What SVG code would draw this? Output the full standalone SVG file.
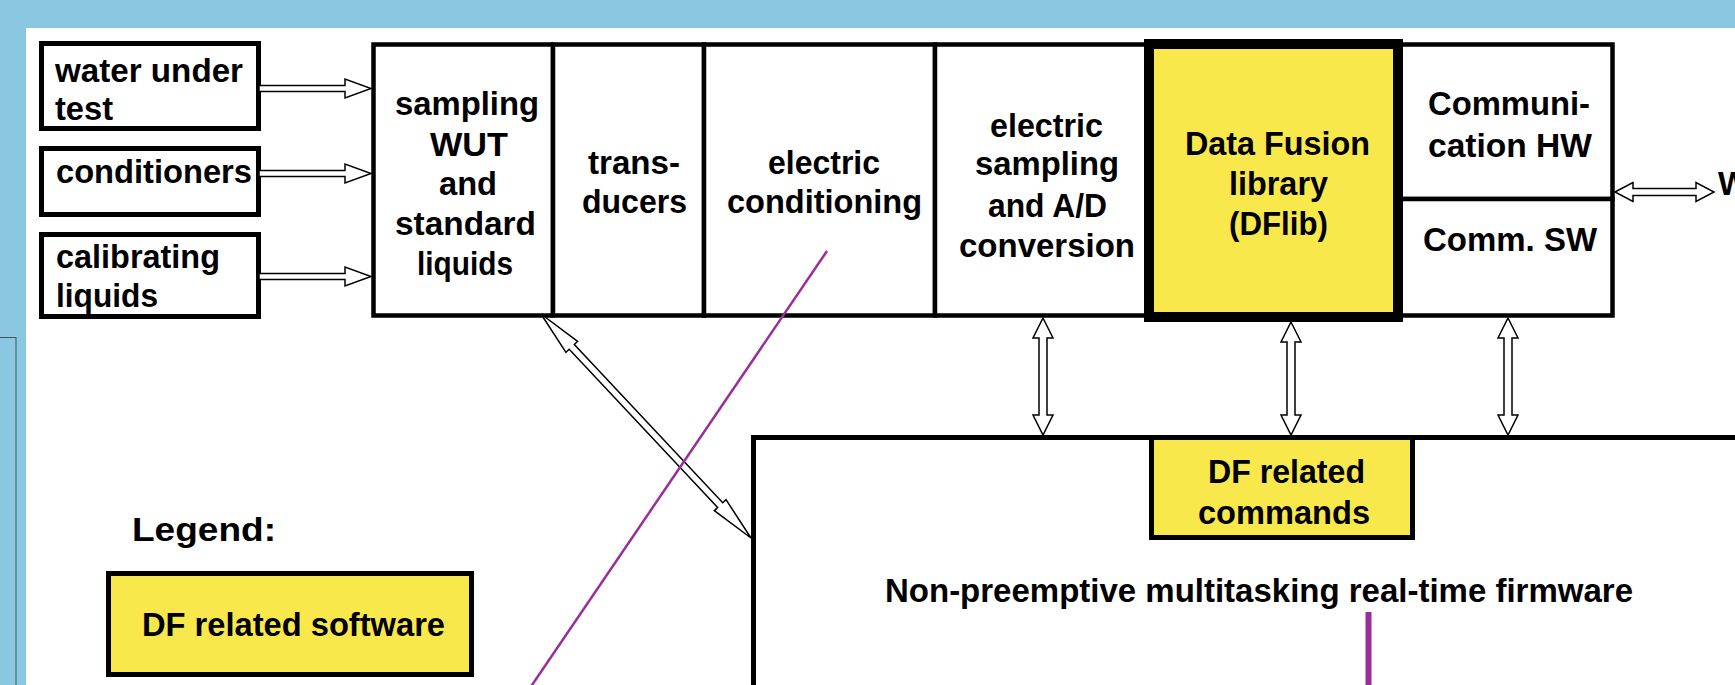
<svg xmlns="http://www.w3.org/2000/svg" width="1735" height="685" viewBox="0 0 1735 685">
<style>
.bx{fill:#fff;stroke:#000;stroke-width:5}
.sg{fill:#fff;stroke:#000;stroke-width:4.5}
.yl{fill:#f9e84b;stroke:#000;stroke-width:5}
.ha{fill:#fff;stroke:#000;stroke-width:1.5;stroke-linejoin:miter}
.t{font-family:"Liberation Sans",Arial,sans-serif;font-weight:bold;font-size:33px;fill:#000}
.m{text-anchor:middle}
.pl{stroke:#992d99;fill:none}
</style>
<rect x="0" y="0" width="1735" height="685" fill="#8ac8e1"/>
<rect x="26" y="28" width="1709" height="657" fill="#fff"/>
<rect x="-1" y="337.5" width="17" height="360" fill="#8ac8e1" stroke="#44525c" stroke-width="1"/>

<g id="water-under-test">
<rect class="bx" x="41.5" y="43.5" width="217" height="85"/>
<text class="t" x="55" y="82" textLength="188" lengthAdjust="spacingAndGlyphs">water under</text>
<text class="t" x="55" y="120" textLength="58" lengthAdjust="spacingAndGlyphs">test</text>
</g>
<g id="conditioners">
<rect class="bx" x="41.5" y="148.5" width="217" height="66"/>
<text class="t" x="56" y="183" textLength="196" lengthAdjust="spacingAndGlyphs">conditioners</text>
</g>
<g id="calibrating-liquids">
<rect class="bx" x="41.5" y="234.5" width="217" height="82"/>
<text class="t" x="56" y="268" textLength="164" lengthAdjust="spacingAndGlyphs">calibrating</text>
<text class="t" x="56" y="307" textLength="102" lengthAdjust="spacingAndGlyphs">liquids</text>
</g>

<g id="sampling-wut">
<rect class="sg" x="373.5" y="44.5" width="179.5" height="271"/>
<text class="t m" x="467" y="115" textLength="144" lengthAdjust="spacingAndGlyphs">sampling</text>
<text class="t m" x="469" y="156" textLength="78" lengthAdjust="spacingAndGlyphs">WUT</text>
<text class="t m" x="468" y="195" textLength="58" lengthAdjust="spacingAndGlyphs">and</text>
<text class="t m" x="465.5" y="235" textLength="141" lengthAdjust="spacingAndGlyphs">standard</text>
<text class="t m" x="465" y="275" textLength="96" lengthAdjust="spacingAndGlyphs">liquids</text>
</g>
<g id="transducers">
<rect class="sg" x="553" y="44.5" width="151" height="271"/>
<text class="t m" x="634" y="174" textLength="92" lengthAdjust="spacingAndGlyphs">trans-</text>
<text class="t m" x="634.5" y="213" textLength="105" lengthAdjust="spacingAndGlyphs">ducers</text>
</g>
<g id="electric-conditioning">
<rect class="sg" x="704" y="44.5" width="231" height="271"/>
<text class="t m" x="824" y="174" textLength="112" lengthAdjust="spacingAndGlyphs">electric</text>
<text class="t m" x="824.5" y="213" textLength="195" lengthAdjust="spacingAndGlyphs">conditioning</text>
</g>
<g id="electric-sampling-ad">
<rect class="sg" x="935" y="44.5" width="214" height="271"/>
<text class="t m" x="1046.5" y="137" textLength="113" lengthAdjust="spacingAndGlyphs">electric</text>
<text class="t m" x="1047" y="175" textLength="144" lengthAdjust="spacingAndGlyphs">sampling</text>
<text class="t m" x="1047.5" y="217" textLength="119" lengthAdjust="spacingAndGlyphs">and A/D</text>
<text class="t m" x="1047" y="257" textLength="176" lengthAdjust="spacingAndGlyphs">conversion</text>
</g>
<g id="communication-hw">
<rect class="sg" x="1398" y="44.5" width="214.5" height="154.5"/>
<text class="t m" x="1509" y="115" textLength="162" lengthAdjust="spacingAndGlyphs">Communi-</text>
<text class="t m" x="1510" y="157" textLength="164" lengthAdjust="spacingAndGlyphs">cation HW</text>
</g>
<g id="comm-sw">
<rect class="sg" x="1398" y="199" width="214.5" height="116.5"/>
<text class="t m" x="1510" y="251" textLength="174" lengthAdjust="spacingAndGlyphs">Comm. SW</text>
</g>
<g id="data-fusion-library">
<rect x="1149" y="44" width="249" height="273" fill="#f9e84b" stroke="#000" stroke-width="10"/>
<text class="t m" x="1277.5" y="155" textLength="185" lengthAdjust="spacingAndGlyphs">Data Fusion</text>
<text class="t m" x="1278.5" y="195" textLength="99" lengthAdjust="spacingAndGlyphs">library</text>
<text class="t m" x="1278.5" y="235" textLength="99" lengthAdjust="spacingAndGlyphs">(DFlib)</text>
</g>
<text class="t" x="1718" y="195">W</text>

<g id="firmware">
<rect class="bx" x="753.5" y="437.5" width="1000" height="300"/>
<text class="t m" x="1259" y="602" font-size="34" textLength="748" lengthAdjust="spacingAndGlyphs">Non-preemptive multitasking real-time firmware</text>
</g>
<g id="df-related-commands">
<rect class="yl" x="1151.5" y="437.5" width="261" height="100"/>
<text class="t m" x="1286.5" y="483" textLength="157" lengthAdjust="spacingAndGlyphs">DF related</text>
<text class="t m" x="1284" y="524" textLength="172" lengthAdjust="spacingAndGlyphs">commands</text>
</g>

<g id="legend">
<text class="t" x="132" y="541" font-size="36" textLength="144" lengthAdjust="spacingAndGlyphs">Legend:</text>
<g id="legend-df-software">
<rect class="yl" x="108.5" y="573.5" width="363" height="101"/>
<text class="t m" x="293.5" y="636" textLength="303" lengthAdjust="spacingAndGlyphs">DF related software</text>
</g>
</g>

<g id="connectors">
<path class="ha" d="M259,85.5 H345 V79 L371,88.5 L345,98 V91.5 H259 Z"/>
<path class="ha" d="M259,170.5 H345 V164 L371,173.5 L345,183 V176.5 H259 Z"/>
<path class="ha" d="M259,273.5 H345 V267 L371,276.5 L345,286 V279.5 H259 Z"/>
<path class="ha" d="M1615,192 L1633,182.5 V188.5 H1696 V182.5 L1714,192 L1696,201.5 V195.5 H1633 V201.5 Z"/>
<path class="ha" d="M1043,318 L1053,338 H1047 V415 H1053 L1043,435 L1033,415 H1039 V338 H1033 Z"/>
<path class="ha" d="M1291,322 L1301,342 H1295 V415 H1301 L1291,435 L1281,415 H1287 V342 H1281 Z"/>
<path class="ha" d="M1508,318 L1518,338 H1512 V415 H1518 L1508,435 L1498,415 H1504 V338 H1498 Z"/>
<path class="ha" transform="translate(541,314) rotate(46.85)" d="M0,0 L45,-8 V-3.5 H262 V-8 L307,0 L262,8 V3.5 H45 V8 Z"/>
</g>

<g id="annotations">
<line class="pl" x1="827" y1="251" x2="530" y2="688" stroke-width="2.5"/>
<line class="pl" x1="1368.5" y1="612" x2="1368.5" y2="690" stroke-width="6"/>
</g>
</svg>
